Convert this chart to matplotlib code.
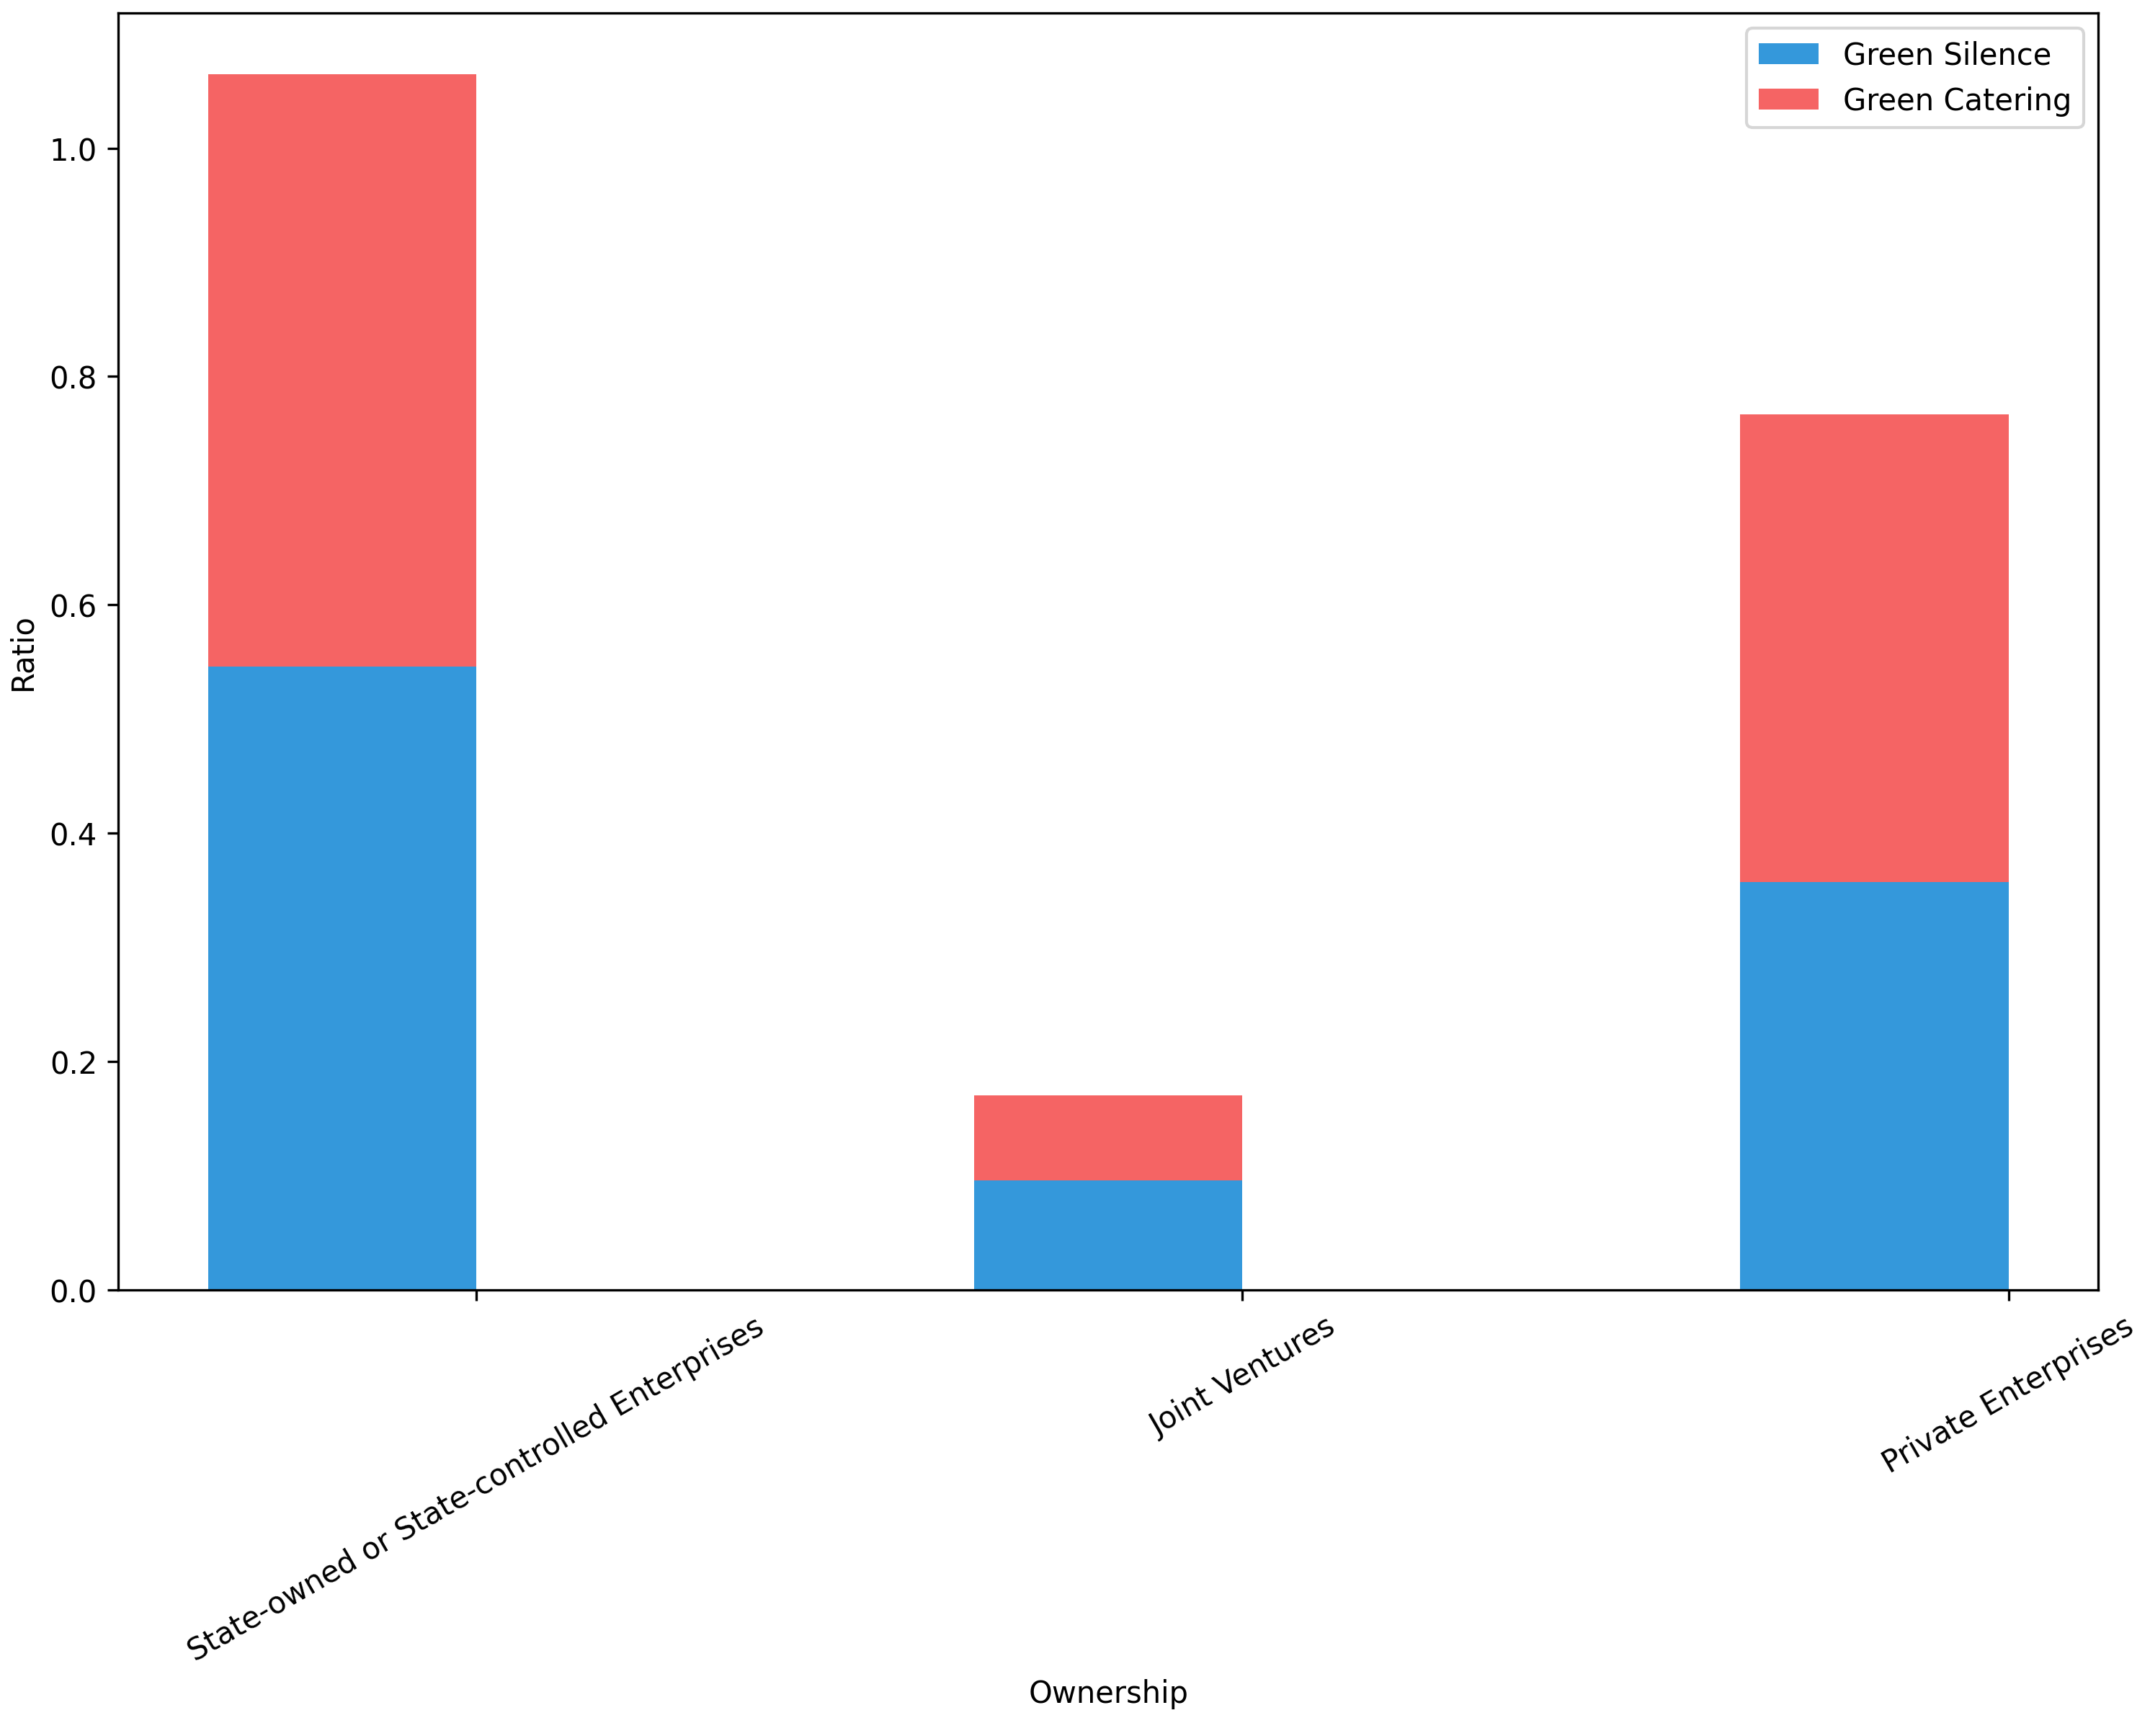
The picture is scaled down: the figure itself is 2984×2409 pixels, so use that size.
import numpy as np
import matplotlib
matplotlib.use("Agg")
import matplotlib.pyplot as plt

# Ratios
ownership = ['State-owned or State-controlled Enterprises', 'Joint Ventures', 'Private Enterprises']
green_silence = [0.546, 0.096, 0.357]
green_catering = [0.519, 0.074, 0.410]

bar_width = 0.35
x = np.arange(len(ownership))

fig, ax = plt.subplots(figsize=(9.947, 8.033), dpi=300)

# bars sit just left of their tick
ax.bar(x - bar_width / 2, green_silence, bar_width, label='Green Silence', color='#3498db')
ax.bar(x - bar_width / 2, green_catering, bar_width, bottom=green_silence,
       label='Green Catering', color='#f56464')

ax.set_xlabel('Ownership')
ax.set_ylabel('Ratio')
ax.set_xticks(x)
ax.set_xticklabels(ownership, rotation=30)
ax.legend(loc='upper right')

plt.subplots_adjust(left=0.055, right=0.976, top=0.992, bottom=0.257)
plt.savefig('out.png', dpi=300)
